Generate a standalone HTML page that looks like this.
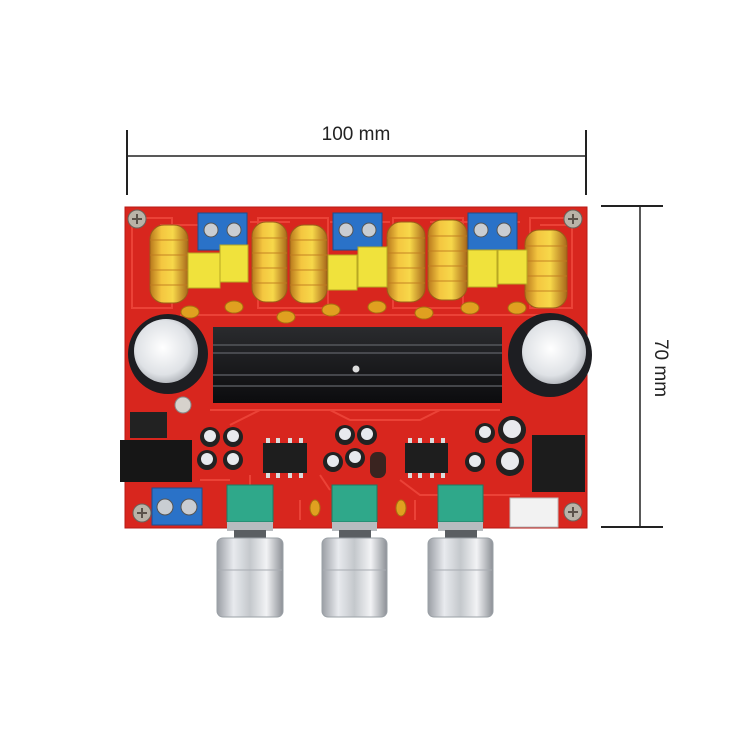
<!DOCTYPE html>
<html><head><meta charset="utf-8"><style>
html,body{margin:0;padding:0;background:#fff;width:750px;height:750px;overflow:hidden}
svg{display:block}
</style></head><body>
<svg width="750" height="750" viewBox="0 0 750 750" xmlns="http://www.w3.org/2000/svg">
<defs>
<linearGradient id="tor" x1="0" x2="1" y1="0" y2="0">
<stop offset="0" stop-color="#b8781c"/><stop offset="0.3" stop-color="#f4c640"/><stop offset="0.6" stop-color="#f7d84a"/><stop offset="1" stop-color="#a8681a"/></linearGradient>
<linearGradient id="knob" x1="0" x2="1" y1="0" y2="0">
<stop offset="0" stop-color="#9a9ea4"/><stop offset="0.25" stop-color="#e8eaee"/><stop offset="0.5" stop-color="#c4c8cc"/><stop offset="0.75" stop-color="#f2f3f5"/><stop offset="1" stop-color="#8c9096"/></linearGradient>
<radialGradient id="capTop" cx="0.45" cy="0.45" r="0.6">
<stop offset="0" stop-color="#ffffff"/><stop offset="0.7" stop-color="#dfe2e6"/><stop offset="1" stop-color="#a9adb3"/></radialGradient>
<linearGradient id="sink" x1="0" x2="0" y1="0" y2="1">
<stop offset="0" stop-color="#2a2b2e"/><stop offset="1" stop-color="#0c0c0e"/></linearGradient>
</defs>

<!-- dimension lines -->
<g stroke="#222" stroke-width="2">
<line x1="127" y1="130" x2="127" y2="195"/>
<line x1="586" y1="130" x2="586" y2="195"/>
<line x1="127" y1="156" x2="586" y2="156" stroke-width="1.5"/>
<line x1="601" y1="206" x2="663" y2="206"/>
<line x1="601" y1="527" x2="663" y2="527"/>
<line x1="640" y1="206" x2="640" y2="527" stroke-width="1.5"/>
</g>
<text x="356" y="140" font-family="Liberation Sans, sans-serif" font-size="19" text-anchor="middle" fill="#222">100 mm</text>
<text x="0" y="0" transform="translate(655,368) rotate(90)" font-family="Liberation Sans, sans-serif" font-size="19" text-anchor="middle" fill="#222">70 mm</text>

<!-- board -->
<rect x="125" y="207" width="462" height="321" fill="#d8261e"/>
<rect x="125" y="207" width="462" height="321" fill="none" stroke="#b71a14" stroke-width="1"/>
<!-- traces -->
<g stroke="#f04a3e" stroke-width="2" fill="none" opacity="0.8">
<path d="M160 225 H215 M250 222 H290 M330 222 H390 M430 222 H520 M540 225 H570"/>
<path d="M180 315 H560 M210 410 H500 M230 425 L260 410 H330 L350 420 H420 L440 410"/>
<path d="M250 475 V520 M320 475 L330 490 M400 480 L420 495 H520 M200 480 H230 M300 500 V520 M415 500 V520"/>
<rect x="132" y="218" width="40" height="90"/><rect x="258" y="218" width="70" height="90"/><rect x="393" y="218" width="70" height="90"/><rect x="530" y="218" width="42" height="90"/>
</g>
<!-- screws -->
<g>
<circle cx="137" cy="219" r="9" fill="#b9b3a8" stroke="#6a625a"/>
<circle cx="573" cy="219" r="9" fill="#b9b3a8" stroke="#6a625a"/>
<circle cx="142" cy="513" r="9" fill="#b9b3a8" stroke="#6a625a"/>
<circle cx="573" cy="512" r="9" fill="#b9b3a8" stroke="#6a625a"/>
<path d="M132 219h10M137 214v10M568 219h10M573 214v10M137 513h10M142 508v10M568 512h10M573 507v10" stroke="#5a524a" stroke-width="2"/>
</g>

<!-- toroids -->
<g fill="url(#tor)" stroke="#9a5e18" stroke-width="1">
<rect x="150" y="225" width="38" height="78" rx="14"/>
<rect x="252" y="222" width="35" height="80" rx="14"/>
<rect x="290" y="225" width="37" height="78" rx="14"/>
<rect x="387" y="222" width="38" height="80" rx="14"/>
<rect x="428" y="220" width="39" height="80" rx="14"/>
<rect x="525" y="230" width="42" height="78" rx="14"/>
</g>
<g stroke="#c07a20" stroke-width="1.2" opacity="0.7">
<path d="M150 240h38M150 255h38M150 270h38M150 285h38M252 238h35M252 253h35M252 268h35M252 283h35M290 240h37M290 255h37M290 270h37M290 285h37M387 238h38M387 253h38M387 268h38M387 283h38M428 236h39M428 251h39M428 266h39M428 281h39M525 246h42M525 261h42M525 276h42M525 291h42"/>
</g>

<!-- blue terminals -->
<g fill="#2a72c8" stroke="#1a4e90">
<rect x="198" y="213" width="49" height="37"/>
<rect x="333" y="213" width="49" height="37"/>
<rect x="468" y="213" width="49" height="37"/>
<rect x="152" y="488" width="50" height="37"/>
</g>
<g fill="#c9cdd2" stroke="#555">
<circle cx="211" cy="230" r="7"/><circle cx="234" cy="230" r="7"/>
<circle cx="346" cy="230" r="7"/><circle cx="369" cy="230" r="7"/>
<circle cx="481" cy="230" r="7"/><circle cx="504" cy="230" r="7"/>
<circle cx="165" cy="507" r="8"/><circle cx="189" cy="507" r="8"/>
</g>

<!-- yellow film caps -->
<g fill="#f0e23c" stroke="#b8a822">
<rect x="188" y="253" width="32" height="35"/>
<rect x="220" y="245" width="28" height="37"/>
<rect x="328" y="255" width="29" height="35"/>
<rect x="358" y="247" width="29" height="40"/>
<rect x="468" y="250" width="29" height="37"/>
<rect x="498" y="250" width="29" height="34"/>
</g>
<!-- ceramic caps -->
<g fill="#e0a020" stroke="#a87010">
<ellipse cx="190" cy="312" rx="9" ry="6"/><ellipse cx="234" cy="307" rx="9" ry="6"/>
<ellipse cx="286" cy="317" rx="9" ry="6"/><ellipse cx="331" cy="310" rx="9" ry="6"/>
<ellipse cx="377" cy="307" rx="9" ry="6"/><ellipse cx="424" cy="313" rx="9" ry="6"/>
<ellipse cx="470" cy="308" rx="9" ry="6"/><ellipse cx="517" cy="308" rx="9" ry="6"/>
<ellipse cx="315" cy="508" rx="5" ry="8"/><ellipse cx="401" cy="508" rx="5" ry="8"/>
</g>

<!-- heatsink -->
<rect x="213" y="327" width="289" height="76" fill="url(#sink)"/>
<g stroke="#55575c" stroke-width="1.5">
<line x1="213" y1="345" x2="502" y2="345"/><line x1="213" y1="353" x2="502" y2="353"/>
<line x1="213" y1="375" x2="502" y2="375"/><line x1="213" y1="386" x2="502" y2="386"/>
</g>
<circle cx="356" cy="369" r="3.5" fill="#ddd"/>

<!-- big caps -->
<circle cx="168" cy="354" r="40" fill="#1d1e22"/>
<circle cx="166" cy="351" r="32" fill="url(#capTop)"/>
<circle cx="550" cy="355" r="42" fill="#1d1e22"/>
<circle cx="554" cy="352" r="32" fill="url(#capTop)"/>
<circle cx="183" cy="405" r="8" fill="#d6d2cc" stroke="#888"/>

<!-- DC jack and D1 -->
<rect x="130" y="412" width="37" height="26" fill="#222"/>
<rect x="120" y="440" width="72" height="42" fill="#161616"/>

<!-- ICs -->
<rect x="263" y="443" width="44" height="30" fill="#1e1e1e"/>
<rect x="405" y="443" width="43" height="30" fill="#1e1e1e"/>
<g fill="#ddd"><rect x="266" y="438" width="4" height="5"/><rect x="276" y="438" width="4" height="5"/><rect x="288" y="438" width="4" height="5"/><rect x="299" y="438" width="4" height="5"/>
<rect x="266" y="473" width="4" height="5"/><rect x="276" y="473" width="4" height="5"/><rect x="288" y="473" width="4" height="5"/><rect x="299" y="473" width="4" height="5"/>
<rect x="408" y="438" width="4" height="5"/><rect x="418" y="438" width="4" height="5"/><rect x="430" y="438" width="4" height="5"/><rect x="441" y="438" width="4" height="5"/>
<rect x="408" y="473" width="4" height="5"/><rect x="418" y="473" width="4" height="5"/><rect x="430" y="473" width="4" height="5"/><rect x="441" y="473" width="4" height="5"/></g>

<!-- small electrolytics -->
<g fill="#222">
<circle cx="210" cy="437" r="10"/><circle cx="233" cy="437" r="10"/><circle cx="207" cy="460" r="10"/><circle cx="233" cy="460" r="10"/>
<circle cx="345" cy="435" r="10"/><circle cx="367" cy="435" r="10"/><circle cx="333" cy="462" r="10"/><circle cx="355" cy="458" r="10"/>
<circle cx="485" cy="433" r="10"/><circle cx="512" cy="430" r="14"/><circle cx="510" cy="462" r="14"/><circle cx="475" cy="462" r="10"/>
</g>
<rect x="370" y="452" width="16" height="26" rx="7" fill="#3a2420"/>
<g fill="#e8eaee">
<circle cx="210" cy="436" r="6"/><circle cx="233" cy="436" r="6"/><circle cx="207" cy="459" r="6"/><circle cx="233" cy="459" r="6"/>
<circle cx="345" cy="434" r="6"/><circle cx="367" cy="434" r="6"/><circle cx="333" cy="461" r="6"/><circle cx="355" cy="457" r="6"/>
<circle cx="485" cy="432" r="6"/><circle cx="512" cy="429" r="9"/><circle cx="510" cy="461" r="9"/><circle cx="475" cy="461" r="6"/>
</g>

<!-- audio jack and connector -->
<rect x="532" y="435" width="53" height="57" fill="#1c1c1c"/>
<rect x="510" y="498" width="48" height="29" fill="#f2f2f2" stroke="#bbb"/>

<!-- pots -->
<g fill="#2fa88a" stroke="#1e7a62">
<rect x="227" y="485" width="46" height="37"/>
<rect x="332" y="485" width="45" height="37"/>
<rect x="438" y="485" width="45" height="37"/>
</g>
<g fill="#b8bcc0">
<rect x="227" y="522" width="46" height="9"/>
<rect x="332" y="522" width="45" height="9"/>
<rect x="438" y="522" width="45" height="9"/>
</g>
<g fill="#5a5e62">
<rect x="234" y="530" width="32" height="10"/>
<rect x="339" y="530" width="32" height="10"/>
<rect x="445" y="530" width="32" height="10"/>
</g>
<!-- knobs -->
<g fill="url(#knob)" stroke="#9aa0a6">
<rect x="217" y="538" width="66" height="79" rx="6"/>
<rect x="322" y="538" width="65" height="79" rx="6"/>
<rect x="428" y="538" width="65" height="79" rx="6"/>
</g>
<g stroke="#a8acb2" stroke-width="1">
<line x1="218" y1="570" x2="282" y2="570"/><line x1="323" y1="570" x2="386" y2="570"/><line x1="429" y1="570" x2="492" y2="570"/>
</g>
</svg>
</body></html>
